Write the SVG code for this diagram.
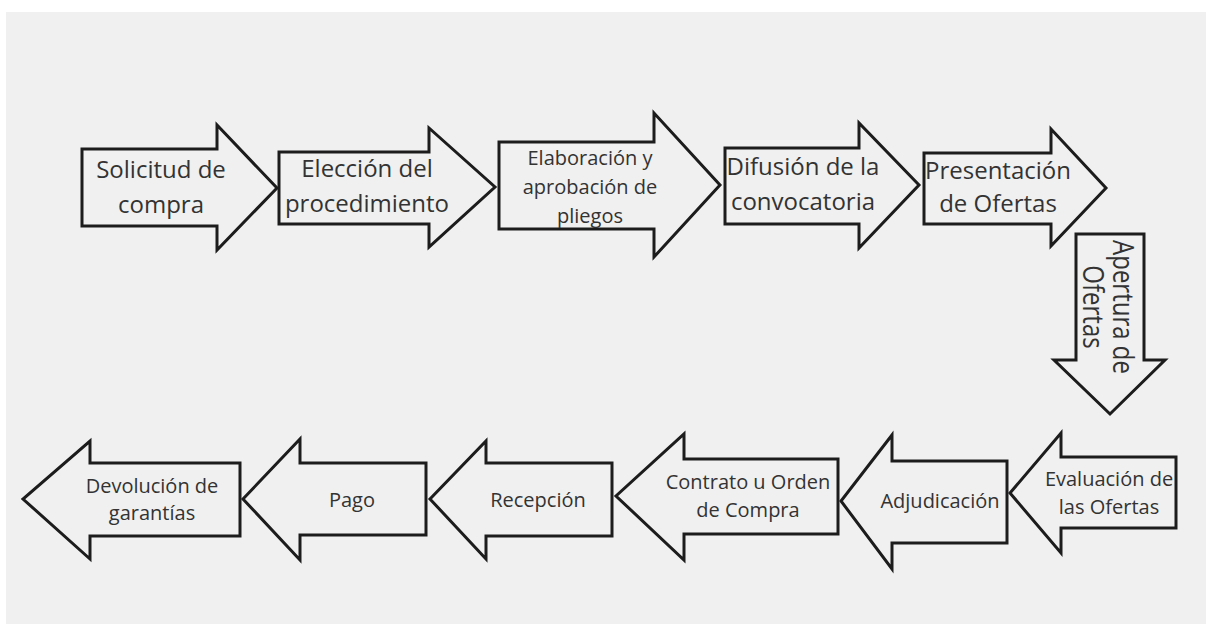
<svg xmlns="http://www.w3.org/2000/svg" width="1206" height="624" viewBox="0 0 1206 624">
<style>
.bg{fill:#f0f0f0}
.arr{fill:#f0f0f0;stroke:#1c1c1c;stroke-width:3;stroke-linejoin:miter}
.t{font-family:"Open Sans","Noto Sans","DejaVu Sans",sans-serif;fill:#333;text-anchor:middle}
.l{font-size:24px}
.s{font-size:20px}
</style>
<defs>
<clipPath id="c3"><rect x="499" y="142" width="160" height="86"/></clipPath>
</defs>
<rect width="1206" height="624" fill="#ffffff"/>
<rect class="bg" x="6" y="12" width="1200" height="612"/>
<g id="connectors"></g>
<g id="n1"><polygon class="arr" points="82,149 217,149 217,125 277,188 217,250 217,226 82,226"/>
<text class="t l" x="161" y="178">Solicitud de</text><text class="t l" x="161" y="213">compra</text></g>
<g id="n2"><polygon class="arr" points="279,152 429,152 429,128 495,187 429,247 429,224 279,224"/>
<text class="t l" x="367" y="177">Elección del</text><text class="t l" x="367" y="212">procedimiento</text></g>
<g id="n3"><polygon class="arr" points="499,142 654,142 654,113 720,185 654,257 654,229 499,229"/>
<g clip-path="url(#c3)"><text class="t s" x="590" y="165">Elaboración y</text><text class="t s" x="590" y="194">aprobación de</text><text class="t s" x="590" y="223">pliegos</text></g></g>
<g id="n4"><polygon class="arr" points="725,148 859,148 859,123 919,185 859,248 859,224 725,224"/>
<text class="t l" x="803" y="175">Difusión de la</text><text class="t l" x="803" y="210">convocatoria</text></g>
<g id="n5"><polygon class="arr" points="924,153 1051,153 1051,129 1106,188 1051,246 1051,224 924,224"/>
<text class="t l" x="998" y="179">Presentación</text><text class="t l" x="998" y="212">de Ofertas</text></g>
<g id="n6"><polygon class="arr" points="1076,234 1144,234 1144,360 1165,360 1110,414 1054,360 1076,360"/>
<g transform="translate(1113,307) rotate(90) scale(1,1.2)"><text class="t l" x="0" y="0">Apertura de</text><text class="t l" x="0" y="25">Ofertas</text></g></g>
<g id="n7"><polygon class="arr" points="1176,457 1061,457 1061,433 1010,493 1061,553 1061,528 1176,528"/>
<text class="t s" x="1109" y="486">Evaluación de</text><text class="t s" x="1109" y="514">las Ofertas</text></g>
<g id="n8"><polygon class="arr" points="1007,461 892,461 892,435 841,501 892,569 892,543 1007,543"/>
<text class="t s" x="940" y="508">Adjudicación</text></g>
<g id="n9"><polygon class="arr" points="838,459 684,459 684,434 616,496 684,560 684,534 838,534"/>
<text class="t s" x="748" y="489">Contrato u Orden</text><text class="t s" x="748" y="517">de Compra</text></g>
<g id="n10"><polygon class="arr" points="612,463 486,463 486,441 430,499 486,559 486,536 612,536"/>
<text class="t s" x="538" y="507">Recepción</text></g>
<g id="n11"><polygon class="arr" points="426,463 300,463 300,439 243,499 300,560 300,535 426,535"/>
<text class="t s" x="352" y="507">Pago</text></g>
<g id="n12"><polygon class="arr" points="240,463 90,463 90,441 23,499 90,559 90,536 240,536"/>
<text class="t s" x="152" y="493">Devolución de</text><text class="t s" x="152" y="520">garantías</text></g>
</svg>
